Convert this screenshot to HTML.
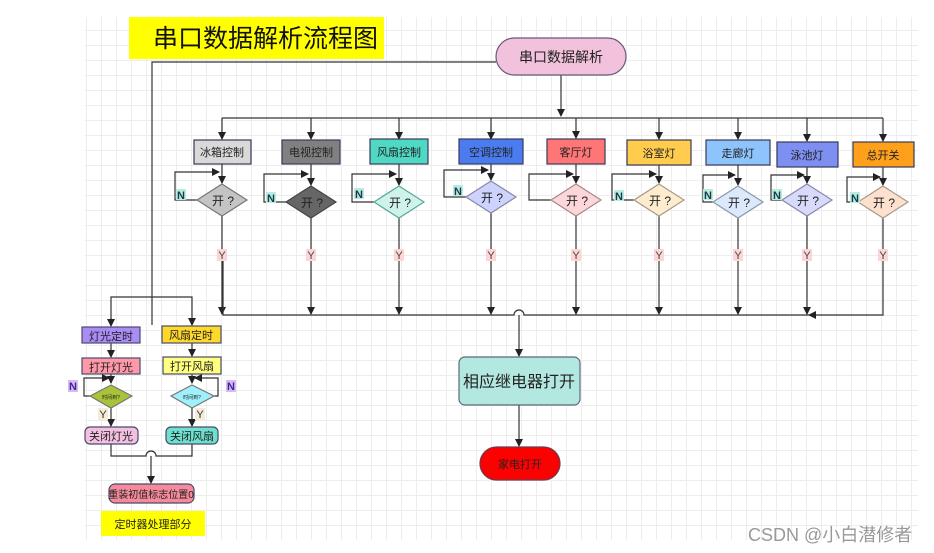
<!DOCTYPE html>
<html><head><meta charset="utf-8">
<style>
html,body{margin:0;padding:0;background:#fff;}
body{width:934px;height:553px;overflow:hidden;position:relative;font-family:"Liberation Sans","Noto Sans CJK SC",sans-serif;}
#grid{position:absolute;left:85px;top:17px;width:833px;height:523px;
background-image:linear-gradient(to right,#ededed 1px,transparent 1px),linear-gradient(to bottom,#ededed 1px,transparent 1px);
background-size:15px 15px;background-position:1px 13px;}
svg{position:absolute;left:0;top:0;}
text{font-family:"Liberation Sans","Noto Sans CJK SC",sans-serif;}
</style></head><body>
<div id="grid"></div>
<svg width="934" height="553" viewBox="0 0 934 553">
<defs>
<marker id="a" markerWidth="8" markerHeight="8" refX="7" refY="4" orient="auto" markerUnits="userSpaceOnUse">
<path d="M0,0 L8,4 L0,8 z" fill="#222"/></marker>
</defs>
<rect x="129" y="17" width="255" height="42" fill="#ffff00"/>
<text x="153" y="47" font-size="25" fill="#111">串口数据解析流程图</text>
<g stroke="#333" stroke-width="1.2" fill="none">
<polyline points="496,62 152,62 152,325"/>
<line x1="561" y1="75" x2="561" y2="116" marker-end="url(#a)"/>
<line x1="222" y1="118" x2="883" y2="118"/>
</g>
<rect x="496" y="38" width="130" height="37" rx="18.5" fill="#f2c2dc" stroke="#6a5a7a" stroke-width="1.2"/>
<text x="561" y="62" font-size="14" text-anchor="middle" fill="#222">串口数据解析</text>

<g stroke="#333" stroke-width="1.2" fill="none">
<line x1="222" y1="118" x2="222" y2="139" marker-end="url(#a)"/>
<line x1="222" y1="164" x2="222" y2="183" marker-end="url(#a)"/>
<polyline points="197,200 175,200 175,172 219,172" marker-end="url(#a)"/>
<line x1="222" y1="216" x2="222" y2="314" marker-end="url(#a)"/>
<line x1="311" y1="118" x2="311" y2="139" marker-end="url(#a)"/>
<line x1="311" y1="164" x2="311" y2="185" marker-end="url(#a)"/>
<polyline points="286,202 264,202 264,174 308,174" marker-end="url(#a)"/>
<line x1="311" y1="218" x2="311" y2="314" marker-end="url(#a)"/>
<line x1="399" y1="118" x2="399" y2="139" marker-end="url(#a)"/>
<line x1="399" y1="164" x2="399" y2="185" marker-end="url(#a)"/>
<polyline points="374,202 352,202 352,174 396,174" marker-end="url(#a)"/>
<line x1="399" y1="218" x2="399" y2="314" marker-end="url(#a)"/>
<line x1="491" y1="118" x2="491" y2="139" marker-end="url(#a)"/>
<line x1="491" y1="164" x2="491" y2="180" marker-end="url(#a)"/>
<polyline points="466,197 444,197 444,170 488,170" marker-end="url(#a)"/>
<line x1="491" y1="213" x2="491" y2="314" marker-end="url(#a)"/>
<line x1="576" y1="118" x2="576" y2="138" marker-end="url(#a)"/>
<line x1="576" y1="164" x2="576" y2="183" marker-end="url(#a)"/>
<polyline points="551,200 529,200 529,174 573,174" marker-end="url(#a)"/>
<line x1="576" y1="216" x2="576" y2="314" marker-end="url(#a)"/>
<line x1="659" y1="118" x2="659" y2="139" marker-end="url(#a)"/>
<line x1="659" y1="165" x2="659" y2="183" marker-end="url(#a)"/>
<polyline points="634,200 612,200 612,174 656,174" marker-end="url(#a)"/>
<line x1="659" y1="216" x2="659" y2="314" marker-end="url(#a)"/>
<line x1="738" y1="118" x2="738" y2="139" marker-end="url(#a)"/>
<line x1="738" y1="165" x2="738" y2="185" marker-end="url(#a)"/>
<polyline points="713,202 703,202 703,175 735,175" marker-end="url(#a)"/>
<line x1="738" y1="218" x2="738" y2="314" marker-end="url(#a)"/>
<line x1="807" y1="118" x2="807" y2="141" marker-end="url(#a)"/>
<line x1="807" y1="167" x2="807" y2="183" marker-end="url(#a)"/>
<polyline points="782,200 771,200 771,175 804,175" marker-end="url(#a)"/>
<line x1="807" y1="216" x2="807" y2="314" marker-end="url(#a)"/>
<line x1="883" y1="118" x2="883" y2="141" marker-end="url(#a)"/>
<line x1="883" y1="167" x2="883" y2="185" marker-end="url(#a)"/>
<polyline points="858,202 847,202 847,177 880,177" marker-end="url(#a)"/>
<polyline points="883,218 883,315 809,315" marker-end="url(#a)"/>
<path d="M223,250 L223,315 L514,315 A5,5 0 0 1 524,315 L809,315"/>
<line x1="519" y1="315" x2="519" y2="356" marker-end="url(#a)"/>
<line x1="519" y1="405" x2="519" y2="446" marker-end="url(#a)"/>
</g>

<g stroke="#3a3a5a" stroke-width="1.2">
<rect x="194" y="140" width="57" height="24" fill="#d9d9d9"/>
<rect x="282" y="140" width="58" height="24" fill="#808080"/>
<rect x="370" y="139" width="58" height="25" fill="#4fd8c4"/>
<rect x="459" y="139" width="64" height="25" fill="#4a7cf0"/>
<rect x="547" y="139" width="58" height="25" fill="#fe7676"/>
<rect x="627" y="140" width="64" height="25" fill="#ffcc4d"/>
<rect x="706" y="140" width="64" height="25" fill="#8cc4fb"/>
<rect x="777" y="142" width="61" height="25" fill="#7d8ff0"/>
<rect x="853" y="142" width="61" height="25" fill="#ffa01a"/>
</g>
<g font-size="11" fill="#222" text-anchor="middle">
<text x="222" y="156">冰箱控制</text>
<text x="311" y="156">电视控制</text>
<text x="399" y="156">风扇控制</text>
<text x="491" y="156">空调控制</text>
<text x="576" y="156">客厅灯</text>
<text x="659" y="157">浴室灯</text>
<text x="738" y="157">走廊灯</text>
<text x="807" y="159">泳池灯</text>
<text x="883" y="159">总开关</text>
</g>
<g stroke="#777" stroke-width="1.2">
<polygon points="222,184 247,200 222,216 197,200" fill="#c4c4c4"/>
<polygon points="311,186 336,202 311,218 286,202" fill="#666666" stroke="#444"/>
<polygon points="399,186 424,202 399,218 374,202" fill="#cff2ea" stroke="#5a9"/>
<polygon points="491,181 516,197 491,213 466,197" fill="#cdd3fc" stroke="#88a"/>
<polygon points="576,184 601,200 576,216 551,200" fill="#fdd6da" stroke="#a88"/>
<polygon points="659,184 684,200 659,216 634,200" fill="#fdeccd" stroke="#a98"/>
<polygon points="738,186 763,202 738,218 713,202" fill="#dce8fc" stroke="#89a"/>
<polygon points="807,184 832,200 807,216 782,200" fill="#d8dafc" stroke="#88a"/>
<polygon points="883,186 908,202 883,218 858,202" fill="#fde0cd" stroke="#a98"/>
</g>
<g font-size="12" fill="#222" text-anchor="middle">
<text x="223" y="205">开 ?</text>
<text x="312" y="207">开 ?</text>
<text x="400" y="207">开 ?</text>
<text x="492" y="202">开 ?</text>
<text x="577" y="205">开 ?</text>
<text x="660" y="205">开 ?</text>
<text x="739" y="207">开 ?</text>
<text x="808" y="205">开 ?</text>
<text x="884" y="207">开 ?</text>
</g>
<g fill="#b8ece0">
<rect x="176" y="189" width="10" height="11"/><rect x="266" y="192" width="10" height="11"/>
<rect x="354" y="188" width="10" height="11"/><rect x="453" y="185" width="10" height="11"/>
<rect x="703" y="189" width="10" height="11"/><rect x="772" y="189" width="10" height="11"/>
<rect x="850" y="192" width="10" height="11"/><rect x="614" y="190" width="10" height="11"/>
</g>
<g font-size="11" font-weight="bold" fill="#1a3a4a">
<text x="177" y="199">N</text><text x="267" y="202">N</text><text x="355" y="198">N</text>
<text x="454" y="195">N</text><text x="615" y="200">N</text><text x="704" y="199">N</text>
<text x="773" y="199">N</text><text x="851" y="202">N</text>
</g>
<g fill="#fcd6d6">
<rect x="217" y="249" width="10" height="12"/><rect x="306" y="249" width="10" height="12"/>
<rect x="394" y="249" width="10" height="12"/><rect x="486" y="249" width="10" height="12"/>
<rect x="571" y="249" width="10" height="12"/><rect x="654" y="249" width="10" height="12"/>
<rect x="733" y="249" width="10" height="12"/><rect x="802" y="249" width="10" height="12"/>
<rect x="878" y="249" width="10" height="12"/>
</g>
<g font-size="11" fill="#444" text-anchor="middle">
<text x="222" y="259">Y</text><text x="311" y="259">Y</text><text x="399" y="259">Y</text>
<text x="491" y="259">Y</text><text x="576" y="259">Y</text><text x="659" y="259">Y</text>
<text x="738" y="259">Y</text><text x="807" y="259">Y</text><text x="883" y="259">Y</text>
</g>

<rect x="459" y="357" width="121" height="48" rx="6" fill="#b3e8e0" stroke="#5a6a7a" stroke-width="1.2"/>
<text x="519" y="387" font-size="16" text-anchor="middle" fill="#222">相应继电器打开</text>
<rect x="480" y="447" width="80" height="33" rx="16.5" fill="#ff0000" stroke="#6a3a4a" stroke-width="1.2"/>
<text x="520" y="468" font-size="11" text-anchor="middle" fill="#222">家电打开</text>

<g stroke="#333" stroke-width="1.2" fill="none">
<polyline points="111,325 111,297 192,297 192,325" />
<line x1="111" y1="318" x2="111" y2="326" marker-end="url(#a)"/>
<line x1="192" y1="318" x2="192" y2="325" marker-end="url(#a)"/>
<line x1="111" y1="343" x2="111" y2="357" marker-end="url(#a)"/>
<line x1="192" y1="343" x2="192" y2="356" marker-end="url(#a)"/>
<line x1="111" y1="374" x2="111" y2="383" marker-end="url(#a)"/>
<line x1="192" y1="374" x2="192" y2="383" marker-end="url(#a)"/>
<polyline points="90,396 84,396 84,378 109,378" marker-end="url(#a)"/>
<polyline points="214,396 218,396 218,378 195,378" marker-end="url(#a)"/>
<line x1="111" y1="408" x2="111" y2="426" marker-end="url(#a)"/>
<line x1="192" y1="408" x2="192" y2="426" marker-end="url(#a)"/>
<path d="M111,444 L111,456 L146,456 A5,5 0 0 1 156,456 L192,456 L192,444"/>
<line x1="151" y1="456" x2="151" y2="483" marker-end="url(#a)"/>
</g>
<g stroke="#4a4a6a" stroke-width="1.2">
<rect x="82" y="327" width="58" height="16" fill="#a98cf5"/>
<rect x="162" y="326" width="59" height="17" fill="#ffd92a"/>
<rect x="82" y="358" width="58" height="16" fill="#ff99aa"/>
<rect x="163" y="357" width="58" height="17" fill="#ffff80"/>
<polygon points="111,385 132,396 111,408 90,396" fill="#a8c23a" stroke="#777"/>
<polygon points="192,385 214,396 192,408 171,396" fill="#9ef0fa" stroke="#777"/>
<rect x="85" y="427" width="53" height="17" rx="5" fill="#f4c0e0"/>
<rect x="166" y="427" width="52" height="17" rx="5" fill="#6ee0cf"/>
<rect x="109" y="484" width="85" height="19" rx="6" fill="#f58a9c"/>
</g>
<g font-size="11" fill="#222" text-anchor="middle">
<text x="111" y="340">灯光定时</text>
<text x="191" y="339">风扇定时</text>
<text x="111" y="371">打开灯光</text>
<text x="192" y="370">打开风扇</text>
<text x="111" y="440">关闭灯光</text>
<text x="192" y="440">关闭风扇</text>
<text x="151" y="498" font-size="10">重装初值标志位置0</text>
<text x="111" y="399" font-size="5">时间到?</text>
<text x="192" y="399" font-size="5">时间到?</text>
</g>
<rect x="68" y="380" width="10" height="12" fill="#d8b8f8"/>
<rect x="226" y="380" width="10" height="12" fill="#d8b8f8"/>
<text x="69" y="390" font-size="11" font-weight="bold" fill="#3a2a8a">N</text>
<text x="227" y="390" font-size="11" font-weight="bold" fill="#3a2a8a">N</text>
<rect x="98" y="408" width="10" height="12" fill="#f4ecd8"/>
<rect x="195" y="408" width="10" height="12" fill="#f4ecd8"/>
<text x="103" y="418" font-size="11" text-anchor="middle" fill="#333">Y</text>
<text x="200" y="418" font-size="11" text-anchor="middle" fill="#333">Y</text>
<rect x="101" y="511" width="104" height="25" fill="#ffff00"/>
<text x="153" y="528" font-size="11" text-anchor="middle" fill="#222">定时器处理部分</text>

<text x="748" y="541" font-size="18" fill="#999">CSDN @小白潜修者</text>
</svg>
</body></html>
